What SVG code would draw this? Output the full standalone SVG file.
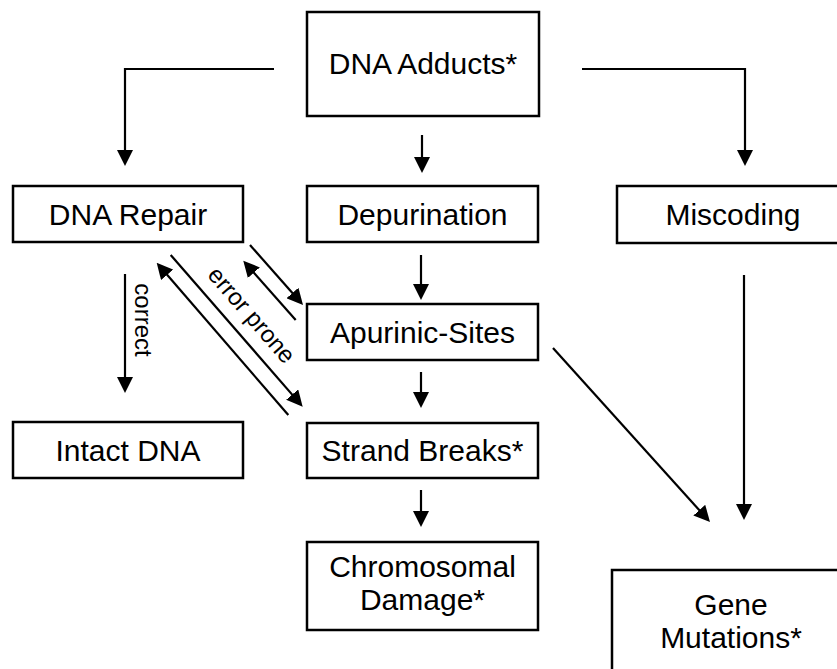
<svg xmlns="http://www.w3.org/2000/svg" width="837" height="669" viewBox="0 0 837 669">
<style>
.box{fill:#fff;stroke:#000;stroke-width:2.5}
.lbl{font-family:"Liberation Sans",Arial,sans-serif;font-size:30px;fill:#000;text-anchor:middle}
.small{font-family:"Liberation Sans",Arial,sans-serif;font-size:24px;fill:#000;text-anchor:middle}
.conn{fill:none;stroke:#000;stroke-width:2.2}
</style>
<defs>
<marker id="ah" viewBox="0 0 16 16" markerWidth="16" markerHeight="16" markerUnits="userSpaceOnUse" refX="6" refY="8" orient="auto">
<path d="M0,0 L16,8 L0,16 z" fill="#000"/>
</marker>
</defs>
<rect width="837" height="669" fill="#fff"/>
<g id="connectors">
<path class="conn" d="M274,69 H125 V156" marker-end="url(#ah)"/>
<path class="conn" d="M582,69 H745 V156" marker-end="url(#ah)"/>
<path class="conn" d="M422,135 V163" marker-end="url(#ah)"/>
<path class="conn" d="M421,255 V290" marker-end="url(#ah)"/>
<path class="conn" d="M421,372 V398" marker-end="url(#ah)"/>
<path class="conn" d="M421,490 V517" marker-end="url(#ah)"/>
<path class="conn" d="M125,274 V383" marker-end="url(#ah)"/>
<path class="conn" d="M250,245 L296.4,297.5" marker-end="url(#ah)"/>
<path class="conn" d="M295.7,320 L249.9,268.2" marker-end="url(#ah)"/>
<path class="conn" d="M170.7,255 L296.1,399.1" marker-end="url(#ah)"/>
<path class="conn" d="M288.3,415 L163.2,270.3" marker-end="url(#ah)"/>
<path class="conn" d="M553,348 L703.3,514.6" marker-end="url(#ah)"/>
<path class="conn" d="M744,275 V510" marker-end="url(#ah)"/>
<text class="small" x="135" y="320" transform="rotate(90 135 320)">correct</text>
<text class="small" x="245.5" y="320.4" transform="rotate(49 245.5 320.4)">error prone</text>
</g>
<g id="dna-adducts"><rect class="box" x="307" y="12" width="232" height="104"/><text class="lbl" x="423" y="74">DNA Adducts*</text></g>
<g id="dna-repair"><rect class="box" x="13" y="186" width="230" height="56"/><text class="lbl" x="128" y="225">DNA Repair</text></g>
<g id="depurination"><rect class="box" x="307" y="186" width="231" height="56"/><text class="lbl" x="422.5" y="225">Depurination</text></g>
<g id="miscoding"><rect class="box" x="617" y="186" width="232" height="57"/><text class="lbl" x="733" y="225">Miscoding</text></g>
<g id="apurinic-sites"><rect class="box" x="307" y="304" width="231" height="56"/><text class="lbl" x="422.5" y="343">Apurinic-Sites</text></g>
<g id="intact-dna"><rect class="box" x="13" y="422" width="230" height="56"/><text class="lbl" x="128" y="461">Intact DNA</text></g>
<g id="strand-breaks"><rect class="box" x="307" y="423" width="231" height="55"/><text class="lbl" x="422.5" y="461">Strand Breaks*</text></g>
<g id="chromosomal-damage"><rect class="box" x="307" y="542" width="231" height="88"/><text class="lbl" x="422.5" y="577">Chromosomal</text><text class="lbl" x="422.5" y="610">Damage*</text></g>
<g id="gene-mutations"><rect class="box" x="612" y="570" width="238" height="110"/><text class="lbl" x="731" y="615">Gene</text><text class="lbl" x="731" y="648">Mutations*</text></g>
</svg>
